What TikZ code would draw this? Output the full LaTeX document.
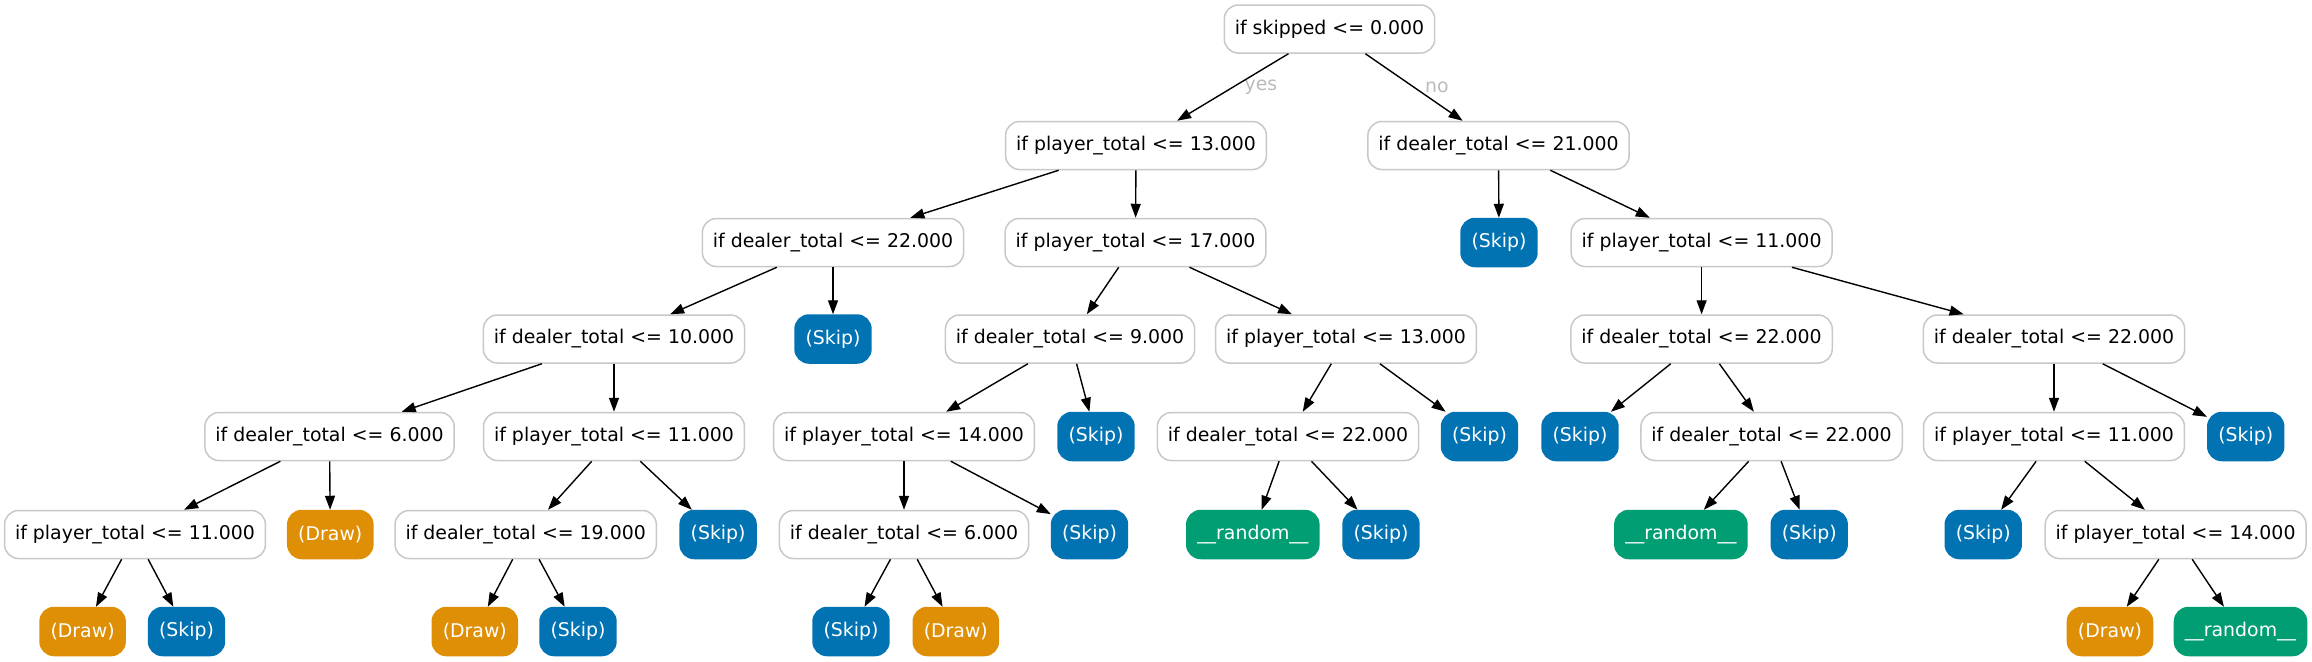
\documentclass[tikz,border=0pt]{standalone}
\usepackage{fontspec}
\setmainfont{DejaVu Sans}
\usetikzlibrary{arrows.meta}
\definecolor{skipc}{RGB}{1,115,178}
\definecolor{drawc}{RGB}{222,143,5}
\definecolor{randc}{RGB}{2,158,115}
\definecolor{bord}{RGB}{200,200,200}
\definecolor{labc}{RGB}{187,187,187}
\begin{document}
\begin{tikzpicture}[x=0.5pt,y=-0.5pt,
  base/.style={rectangle, rounded corners=7pt, minimum height=24pt, inner xsep=5.25pt, inner ysep=0pt, line width=0.75pt, font=\fontsize{9.45}{11}\selectfont},
  split/.style={base, draw=bord, fill=white, text=black},
  skipn/.style={base, draw=skipc, fill=skipc, text=white},
  drawn/.style={base, draw=drawc, fill=drawc, text=white},
  randn/.style={base, draw=randc, fill=randc, text=white},
  elab/.style={text=labc, font=\fontsize{9.45}{11}\selectfont, inner sep=0pt},
  conn/.style={-{Triangle[length=7pt,width=5pt]}, line width=0.7pt, black}
]
\useasboundingbox (0,0) rectangle (2312,661);
% level 0
\node[split] (root) at (1329.5,29) {if skipped <= 0.000};
% level 1
\node[split] (A) at (1136,145.5) {if player\_total <= 13.000};
\node[split] (B) at (1498.5,145.5) {if dealer\_total <= 21.000};
% level 2
\node[split] (C) at (833,242.5) {if dealer\_total <= 22.000};
\node[split] (D) at (1135.5,242.5) {if player\_total <= 17.000};
\node[skipn] (E) at (1499,242.5) {(Skip)};
\node[split] (F) at (1701.6,242.5) {if player\_total <= 11.000};
% level 3
\node[split] (G) at (614,339) {if dealer\_total <= 10.000};
\node[skipn] (H) at (833,339) {(Skip)};
\node[split] (I) at (1070,339) {if dealer\_total <= 9.000};
\node[split] (J) at (1346,339) {if player\_total <= 13.000};
\node[split] (K) at (1701.6,339) {if dealer\_total <= 22.000};
\node[split] (L) at (2054,339) {if dealer\_total <= 22.000};
% level 4
\node[split] (M) at (329.5,436.5) {if dealer\_total <= 6.000};
\node[split] (N) at (614,436.5) {if player\_total <= 11.000};
\node[split] (O) at (904,436.5) {if player\_total <= 14.000};
\node[skipn] (P) at (1096,436.5) {(Skip)};
\node[split] (Q) at (1288,436.5) {if dealer\_total <= 22.000};
\node[skipn] (R) at (1479.5,436.5) {(Skip)};
\node[skipn] (S) at (1580,436.5) {(Skip)};
\node[split] (T) at (1771.6,436.5) {if dealer\_total <= 22.000};
\node[split] (U) at (2054,436.5) {if player\_total <= 11.000};
\node[skipn] (V) at (2245.7,436.5) {(Skip)};
% level 5
\node[split] (W) at (135,534.5) {if player\_total <= 11.000};
\node[drawn] (X) at (330.3,534.5) {(Draw)};
\node[split] (Y) at (525.7,534.5) {if dealer\_total <= 19.000};
\node[skipn] (Z) at (718.1,534.5) {(Skip)};
\node[split] (AA) at (904,534.5) {if dealer\_total <= 6.000};
\node[skipn] (AB) at (1089.5,534.5) {(Skip)};
\node[randn] (AC) at (1252.8,534.5) {\_\_random\_\_};
\node[skipn] (AD) at (1381,534.5) {(Skip)};
\node[randn] (AE) at (1680.9,534.5) {\_\_random\_\_};
\node[skipn] (AF) at (1809.2,534.5) {(Skip)};
\node[skipn] (AG) at (1983.2,534.5) {(Skip)};
\node[split] (AH) at (2175.6,534.5) {if player\_total <= 14.000};
% level 6
\node[drawn] (AI) at (82.6,631.5) {(Draw)};
\node[skipn] (AJ) at (186.5,631.5) {(Skip)};
\node[drawn] (AK) at (474.8,631.5) {(Draw)};
\node[skipn] (AL) at (578,631.5) {(Skip)};
\node[skipn] (AM) at (851,631.5) {(Skip)};
\node[drawn] (AN) at (955.8,631.5) {(Draw)};
\node[drawn] (AO) at (2110,631.5) {(Draw)};
\node[randn] (AP) at (2240.5,631.5) {\_\_random\_\_};
% labels
\node[elab] (yes) at (1261,87) {yes};
\node[elab] (no) at (1437,87) {no};
% edges
\draw[conn] (root) -- (A);
\draw[conn] (root) -- (B);
\draw[conn] (A) -- (C);
\draw[conn] (A) -- (D);
\draw[conn] (B) -- (E);
\draw[conn] (B) -- (F);
\draw[conn] (C) -- (G);
\draw[conn] (C) -- (H);
\draw[conn] (D) -- (I);
\draw[conn] (D) -- (J);
\draw[conn] (F) -- (K);
\draw[conn] (F) -- (L);
\draw[conn] (G) -- (M);
\draw[conn] (G) -- (N);
\draw[conn] (I) -- (O);
\draw[conn] (I) -- (P);
\draw[conn] (J) -- (Q);
\draw[conn] (J) -- (R);
\draw[conn] (K) -- (S);
\draw[conn] (K) -- (T);
\draw[conn] (L) -- (U);
\draw[conn] (L) -- (V);
\draw[conn] (M) -- (W);
\draw[conn] (M) -- (X);
\draw[conn] (N) -- (Y);
\draw[conn] (N) -- (Z);
\draw[conn] (O) -- (AA);
\draw[conn] (O) -- (AB);
\draw[conn] (Q) -- (AC);
\draw[conn] (Q) -- (AD);
\draw[conn] (T) -- (AE);
\draw[conn] (T) -- (AF);
\draw[conn] (U) -- (AG);
\draw[conn] (U) -- (AH);
\draw[conn] (W) -- (AI);
\draw[conn] (W) -- (AJ);
\draw[conn] (Y) -- (AK);
\draw[conn] (Y) -- (AL);
\draw[conn] (AA) -- (AM);
\draw[conn] (AA) -- (AN);
\draw[conn] (AH) -- (AO);
\draw[conn] (AH) -- (AP);
\end{tikzpicture}
\end{document}
